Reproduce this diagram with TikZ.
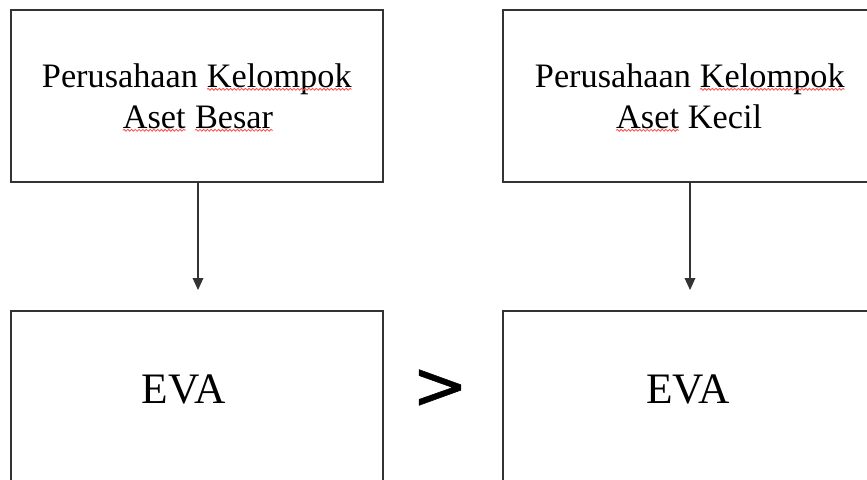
\documentclass[tikz,border=0pt]{standalone}
\usepackage{fontspec}
\setmainfont{Liberation Serif}
\newfontfamily\symfont[FakeBold=0.8]{DejaVu Sans}
\usetikzlibrary{arrows.meta,decorations.pathmorphing}
\tikzset{
  boxnode/.style={draw=black!80, line width=0.9pt, minimum width=279pt, minimum height=129pt, inner sep=0pt, fill=none},
  lowbox/.style={boxnode, minimum height=150pt},
  toptext/.style={font=\fontsize{25.7}{30}\selectfont, inner sep=0pt, anchor=base},
  evatext/.style={font=\fontsize{32.6}{36}\selectfont, inner sep=0pt, anchor=base},
  conn/.style={draw=black!80, line width=0.9pt, -{Triangle[length=9pt,width=8pt]}},
  squigline/.style={draw=red!70, line width=0.6pt, decorate, decoration={snake, amplitude=0.7pt, segment length=2.8pt}}
}
\newcommand\squig[1]{\tikz[baseline=(sqw.base)]{\node[inner sep=0pt,outer sep=0pt,anchor=base](sqw){#1};\draw[squigline]([yshift=-1.7pt]sqw.base west)--([yshift=-1.7pt]sqw.base east);}}
\begin{document}
\begin{tikzpicture}[x=0.75pt,y=-0.75pt]
\useasboundingbox (0,0) rectangle (867,479);
\clip (0,0) rectangle (867,479);
\fill[white] (0,0) rectangle (867,479);
% top boxes
\node[boxnode] (tl) at (197,96) {};
\node[boxnode] (tr) at (689,96) {};
% bottom boxes
\node[lowbox] (bl) at (197,411) {};
\node[lowbox] (br) at (689,411) {};
% texts
\node[toptext] (tl1) at (197,87) {Perusahaan \squig{Kelompok}};
\node[toptext] (tl2) at (198,128) {\squig{Aset} \squig{Besar}};
\node[toptext] (tr1) at (690,87) {Perusahaan \squig{Kelompok}};
\node[toptext] (tr2) at (689,128) {\squig{Aset} Kecil};
\node[evatext] (el) at (183.5,403) {EVA};
\node[evatext] (er) at (688,403) {EVA};
\node[font=\symfont\fontsize{50}{50}\selectfont, inner sep=0pt] (gt) at (440,389) {>};
% connectors
\coordinate (al) at (198,290);
\coordinate (ar) at (690,290);
\draw[conn] (tl.south -| al) -- (al);
\draw[conn] (tr.south -| ar) -- (ar);
\end{tikzpicture}
\end{document}
